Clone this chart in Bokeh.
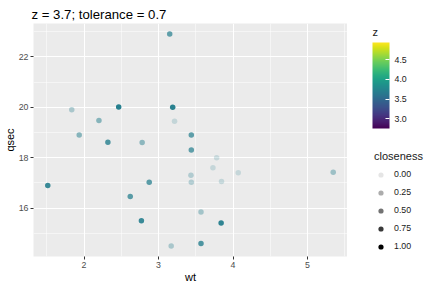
import numpy as np
from bokeh.plotting import figure
from bokeh.layouts import row
from bokeh.models import (ColumnDataSource, Range1d, FixedTicker, LinearColorMapper,
                          ColorBar, Legend, LegendItem, Label, NumeralTickFormatter)
from bokeh.palettes import Viridis256
from bokeh.transform import transform
from bokeh.embed import file_html
from bokeh.resources import INLINE

# mtcars: wt, qsec, drat (z)
wt = [2.620, 2.875, 2.320, 3.215, 3.440, 3.460, 3.570, 3.190, 3.150, 3.440, 3.440,
      4.070, 3.730, 3.780, 5.250, 5.424, 5.345, 2.200, 1.615, 1.835, 2.465, 3.520,
      3.435, 3.840, 3.845, 1.935, 2.140, 1.513, 3.170, 2.770, 3.570, 2.780]
qsec = [16.46, 17.02, 18.61, 19.44, 17.02, 20.22, 15.84, 20.00, 22.90, 18.30, 18.90,
        17.40, 17.60, 18.00, 17.98, 17.82, 17.42, 19.47, 18.52, 19.90, 20.01, 16.87,
        17.30, 15.41, 17.05, 18.90, 16.70, 16.90, 14.50, 15.50, 14.60, 18.60]
drat = [3.90, 3.90, 3.85, 3.08, 3.15, 2.76, 3.21, 3.69, 3.92, 3.92, 3.92,
        3.07, 3.07, 3.07, 2.93, 3.00, 3.23, 4.08, 4.93, 4.22, 3.70, 2.76,
        3.15, 3.73, 3.08, 4.08, 4.43, 3.77, 4.22, 3.62, 3.54, 4.11]
z_target = 3.7
tolerance = 0.7
x_ticks = [2, 3, 4, 5]
y_ticks = [16, 18, 20, 22]
z_ticks = [3.0, 3.5, 4.0, 4.5]
closeness_breaks = [0.00, 0.25, 0.50, 0.75, 1.00]
closeness_labels = ["0.00", "0.25", "0.50", "0.75", "1.00"]

wt = np.array(wt); qsec = np.array(qsec); drat = np.array(drat)
closeness = 1 - np.abs(drat - z_target) / tolerance
keep = closeness > 1e-6
alpha_of = lambda c: 0.1 + 0.9 * np.asarray(c)
n = int(keep.sum())

src = ColumnDataSource(dict(wt=wt[keep], qsec=qsec[keep], z=[z_target] * n,
                            alpha=alpha_of(closeness[keep])))

def expand(a):
    lo, hi = float(np.min(a)), float(np.max(a))
    d = (hi - lo) * 0.05
    return lo - d, hi + d

xr = expand(wt[keep]); yr = expand(qsec[keep])

FONT = "Liberation Sans"
p = figure(width=347, height=288, output_backend="svg", toolbar_location=None,
           x_range=Range1d(*xr), y_range=Range1d(*yr),
           min_border_left=33, min_border_right=0, min_border_top=23, min_border_bottom=32)
p.background_fill_color = "#EBEBEB"
p.border_fill_color = "white"
p.outline_line_color = None

p.title.text = "z = 3.7; tolerance = 0.7"
p.title.text_font = FONT
p.title.text_font_size = "13.2px"
p.title.text_font_style = "normal"
p.title.text_color = "black"
p.title.align = "left"
p.title.offset = -2
p.title.standoff = 4

p.xaxis.ticker = FixedTicker(ticks=x_ticks, minor_ticks=[1.5, 2.5, 3.5, 4.5, 5.5])
p.yaxis.ticker = FixedTicker(ticks=y_ticks, minor_ticks=[15, 17, 19, 21, 23])
for ax, lab in ((p.xaxis, "wt"), (p.yaxis, "qsec")):
    ax.axis_label = lab
    ax.axis_label_text_font = FONT
    ax.axis_label_text_font_size = "11px"
    ax.axis_label_text_font_style = "normal"
    ax.axis_label_text_color = "black"
    ax.axis_label_standoff = 0
    ax.major_label_text_font = FONT
    ax.major_label_text_font_size = "8.8px"
    ax.major_label_text_color = "#4D4D4D"
    ax.major_label_standoff = 1
    ax.axis_line_color = None
    ax.major_tick_line_color = "#333333"
    ax.major_tick_in = 0
    ax.major_tick_out = 3
    ax.minor_tick_line_color = None
p.yaxis.major_label_orientation = "horizontal"

for g in (p.xgrid, p.ygrid):
    g.grid_line_color = "white"
    g.grid_line_width = 1.07
    g.minor_grid_line_color = "white"
    g.minor_grid_line_width = 0.53

mapper = LinearColorMapper(palette=Viridis256, low=float(drat.min()), high=float(drat.max()))
p.scatter("wt", "qsec", source=src, size=5.5, marker="circle",
          fill_color=transform("z", mapper), line_color=None, fill_alpha="alpha")

# legend panel (its frame is aligned with the main frame: y 23..256)
q = figure(width=85, height=288, output_backend="svg", toolbar_location=None,
           x_range=Range1d(0, 1), y_range=Range1d(0, 1), x_axis_type=None, y_axis_type=None,
           min_border=0)
q.grid.visible = False
q.outline_line_color = None
q.background_fill_color = "white"
q.border_fill_color = "white"

cb = ColorBar(color_mapper=mapper, width=17, height=86, padding=0, margin=0,
              ticker=FixedTicker(ticks=z_ticks), formatter=NumeralTickFormatter(format="0.0"),
              major_label_text_font=FONT, major_label_text_font_size="8.8px",
              major_label_text_color="#1A1A1A", label_standoff=5,
              major_tick_line_color="white", major_tick_in=4, major_tick_out=0,
              bar_line_color=None, background_fill_alpha=0, border_line_color=None,
              location=(25, 128))
q.add_layout(cb, "center")

zlab = Label(x=25, y=219, x_units="screen", y_units="screen", text="z",
             text_font=FONT, text_font_size="11px", text_font_style="normal",
             text_color="#1A1A1A")
q.add_layout(zlab)

items = []
for b, lab in zip(closeness_breaks, closeness_labels):
    r = q.scatter(x=[-5], y=[-5], size=5.5, marker="circle", fill_color="black",
                  line_color=None, fill_alpha=float(alpha_of(b)))
    items.append(LegendItem(label=lab, renderers=[r]))
leg = Legend(items=items, title="closeness", location=(27, 1),
             title_text_font=FONT, title_text_font_size="11px", title_text_font_style="normal",
             title_text_color="#1A1A1A", title_standoff=3,
             label_text_font=FONT, label_text_font_size="8.8px", label_text_color="#1A1A1A",
             glyph_width=13, glyph_height=13, label_height=18, spacing=0, label_standoff=7,
             padding=0, margin=0, background_fill_alpha=0, border_line_color=None)
q.add_layout(leg, "center")

layout = row(p, q)
open("out.html", "w").write(file_html(layout, INLINE))
